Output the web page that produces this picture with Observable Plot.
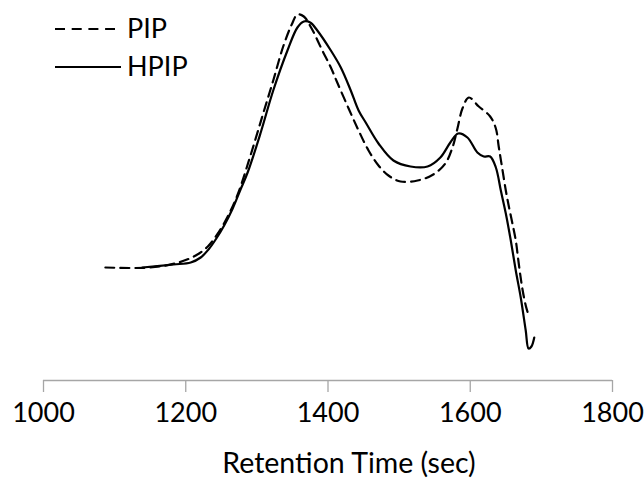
<!DOCTYPE html>
<html>
<head>
<meta charset="utf-8">
<script src="https://cdn.jsdelivr.net/npm/d3@7"></script>
<script src="https://cdn.jsdelivr.net/npm/@observablehq/plot@0.6"></script>
<style>
  html, body { margin: 0; padding: 0; background: #fff; }
  #wrap { position: relative; width: 644px; height: 496px; font-family: Lato, "Open Sans", sans-serif; }
  #legend { position: absolute; left: 0; top: 0; }
</style>
</head>
<body>
<div id="wrap"></div>
<script>
// Retention time (sec) and detector signal (arbitrary units)
const pipTime = [1087,1150,1190,1214,1231,1246,1259,1273,1291,1308,1323,1337,1349,1357,1366,1377,1392,1404,1413,1429,1443,1457,1471,1485,1502,1526,1548,1565,1575,1582,1589,1598,1612,1628,1636,1640,1645,1650,1654,1659,1664,1668,1673,1678,1683];
const pipSignal = [113,113,118,125,134,148,164,186,225,265,300,334,356,366,364,352,330,313,298,272,250,230,215,205,199,200,206,217,233,252,272,283,274,264,252,234,212,190,175,158,140,118,93,75,63];

const hpipTime = [1139,1183,1207,1221,1232,1243,1254,1266,1277,1287,1305,1323,1343,1357,1366,1375,1385,1404,1418,1432,1443,1453,1471,1492,1516,1540,1558,1572,1583,1596,1610,1619,1628,1636,1643,1650,1657,1664,1671,1678,1682,1686,1690];
const hpipSignal = [113,116,118,123,131,142,155,172,191,208,247,290,330,353,359,358,350,330,313,290,270,258,237,220,214,214,223,238,247,243,228,224,224,213,190,167,140,110,83,50,32,34,43];

const xTicks = [1000, 1200, 1400, 1600, 1800];
const seriesNames = ["PIP", "HPIP"];
const xLabel = "Retention Time (sec)";

const pip = pipTime.map((t, i) => ({time: t, signal: pipSignal[i]}));
const hpip = hpipTime.map((t, i) => ({time: t, signal: hpipSignal[i]}));

const chart = Plot.plot({
  width: 644,
  height: 496,
  marginLeft: 43,
  marginRight: 32,
  marginTop: 0,
  marginBottom: 116,
  style: {fontFamily: "Lato, 'Open Sans', sans-serif", fontSize: "27px", color: "#000", background: "#fff", overflow: "visible"},
  x: {domain: [1000, 1800]},
  y: {domain: [0, 380], axis: null},
  marks: [
    Plot.ruleY([0], {stroke: "#a6a6a6", strokeWidth: 1.3}),
    Plot.axisX({ticks: xTicks, tickFormat: d => String(d), tickSize: 12, tickPadding: 10, stroke: "#a6a6a6", strokeWidth: 1.3, fill: "#000", fontSize: 27, label: null}),
    Plot.text([xLabel], {frameAnchor: "bottom", dx: 21, dy: 92, fontSize: 28.5, fill: "#000"}),
    Plot.line(pip, {x: "time", y: "signal", stroke: "#000", strokeWidth: 2.2, strokeDasharray: "9,6", curve: "catmull-rom"}),
    Plot.line(hpip, {x: "time", y: "signal", stroke: "#000", strokeWidth: 2.2, curve: "catmull-rom"})
  ]
});

const wrap = document.getElementById("wrap");
wrap.appendChild(chart);

// legend overlay
const ns = "http://www.w3.org/2000/svg";
const leg = document.createElementNS(ns, "svg");
leg.setAttribute("id", "legend");
leg.setAttribute("width", 220);
leg.setAttribute("height", 90);
const rows = [{name: seriesNames[0], dash: "10,6.7", y: 29, x2: 115}, {name: seriesNames[1], dash: null, y: 67, x2: 121}];
rows.forEach(r => {
  const l = document.createElementNS(ns, "line");
  l.setAttribute("x1", 55); l.setAttribute("x2", r.x2);
  l.setAttribute("y1", r.y); l.setAttribute("y2", r.y);
  l.setAttribute("stroke", "#000"); l.setAttribute("stroke-width", 2.2);
  if (r.dash) l.setAttribute("stroke-dasharray", r.dash);
  leg.appendChild(l);
  const t = document.createElementNS(ns, "text");
  t.setAttribute("x", 127); t.setAttribute("y", r.y);
  t.setAttribute("dy", "0.35em");
  t.setAttribute("font-family", "Lato, 'Open Sans', sans-serif");
  t.setAttribute("font-size", 27);
  t.textContent = r.name;
  leg.appendChild(t);
});
wrap.appendChild(leg);
</script>
</body>
</html>
